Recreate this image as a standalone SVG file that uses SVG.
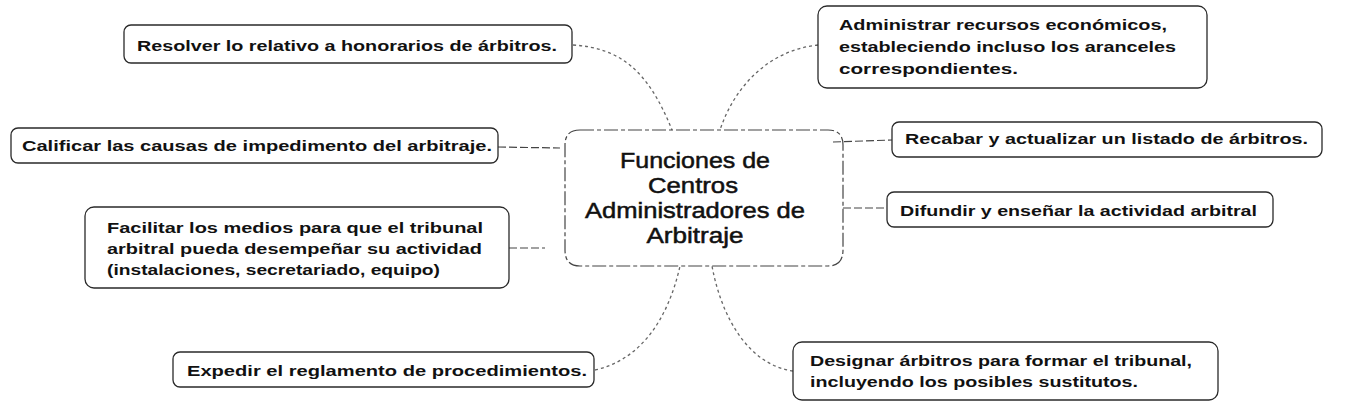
<svg xmlns="http://www.w3.org/2000/svg" width="1346" height="408" viewBox="0 0 1346 408">
<style>
.box{fill:#fff;stroke:#2a2a2a;stroke-width:1.3}
.cbox{fill:none;stroke:#444;stroke-width:1.2;stroke-dasharray:14 3 4 3}
.t{font-family:"Liberation Sans",Arial,sans-serif;font-weight:bold;font-size:15.5px;fill:#111}
.ct{font-family:"Liberation Sans",Arial,sans-serif;font-size:22px;fill:#111;stroke:#111;stroke-width:0.5;text-anchor:middle}
.con{fill:none;stroke:#666;stroke-width:1.3;stroke-dasharray:3 3}
.sol{fill:none;stroke:#444;stroke-width:1.2;stroke-dasharray:8 3}
</style>
<rect width="1346" height="408" fill="#fff"/>
<g id="connectors">
<path class="con" d="M573,45 C620,48 648,70 672,130"/>
<path class="con" d="M818,45 C770,50 735,85 720,130"/>
<path class="sol" d="M498,147 L560,148"/>
<path class="sol" d="M509,248 L545,248"/>
<path class="sol" d="M833,142 L892,140"/>
<path class="sol" d="M843,208 L887,208"/>
<path class="con" d="M595,370 C640,360 668,320 680,266"/>
<path class="con" d="M793,371 C750,365 722,320 712,266"/>
</g>
<g id="center">
<path class="cbox" d="M580,130 L828,130 Q843,130 843,145 L843,250 Q843,266 828,266 L580,266 Q565,266 565,250 L565,145 Q565,130 580,130 Z"/>
<text class="ct" x="695" y="168" textLength="150" lengthAdjust="spacingAndGlyphs">Funciones de</text>
<text class="ct" x="693" y="193" textLength="90" lengthAdjust="spacingAndGlyphs">Centros</text>
<text class="ct" x="695" y="218" textLength="220" lengthAdjust="spacingAndGlyphs">Administradores de</text>
<text class="ct" x="695" y="243" textLength="97" lengthAdjust="spacingAndGlyphs">Arbitraje</text>
</g>
<g id="n-resolver">
<rect class="box" x="124" y="25" width="448" height="38" rx="7"/>
<text class="t" x="137" y="51" textLength="420" lengthAdjust="spacingAndGlyphs">Resolver lo relativo a honorarios de árbitros.</text>
</g>
<g id="n-calificar">
<rect class="box" x="11" y="128" width="487" height="35" rx="7"/>
<text class="t" x="22" y="151" textLength="470" lengthAdjust="spacingAndGlyphs">Calificar las causas de impedimento del arbitraje.</text>
</g>
<g id="n-facilitar">
<rect class="box" x="85" y="207" width="424" height="81" rx="9"/>
<text class="t" x="107" y="233" textLength="376" lengthAdjust="spacingAndGlyphs">Facilitar los medios para que el tribunal</text>
<text class="t" x="107" y="254" textLength="375" lengthAdjust="spacingAndGlyphs">arbitral pueda desempeñar su actividad</text>
<text class="t" x="107" y="275" textLength="333" lengthAdjust="spacingAndGlyphs">(instalaciones, secretariado, equipo)</text>
</g>
<g id="n-expedir">
<rect class="box" x="173" y="352" width="421" height="35" rx="7"/>
<text class="t" x="187" y="376" textLength="400" lengthAdjust="spacingAndGlyphs">Expedir el reglamento de procedimientos.</text>
</g>
<g id="n-administrar">
<rect class="box" x="818" y="6" width="389" height="82" rx="9"/>
<text class="t" x="839" y="30" textLength="328" lengthAdjust="spacingAndGlyphs">Administrar recursos económicos,</text>
<text class="t" x="839" y="52" textLength="337" lengthAdjust="spacingAndGlyphs">estableciendo incluso los aranceles</text>
<text class="t" x="839" y="74" textLength="179" lengthAdjust="spacingAndGlyphs">correspondientes.</text>
</g>
<g id="n-recabar">
<rect class="box" x="892" y="122" width="430" height="35" rx="7"/>
<text class="t" x="905" y="144" textLength="403" lengthAdjust="spacingAndGlyphs">Recabar y actualizar un listado de árbitros.</text>
</g>
<g id="n-difundir">
<rect class="box" x="887" y="192" width="386" height="35" rx="7"/>
<text class="t" x="900" y="216" textLength="357" lengthAdjust="spacingAndGlyphs">Difundir y enseñar la actividad arbitral</text>
</g>
<g id="n-designar">
<rect class="box" x="793" y="342" width="425" height="58" rx="9"/>
<text class="t" x="810" y="366" textLength="382" lengthAdjust="spacingAndGlyphs">Designar árbitros para formar el tribunal,</text>
<text class="t" x="810" y="387" textLength="328" lengthAdjust="spacingAndGlyphs">incluyendo los posibles sustitutos.</text>
</g>
</svg>
